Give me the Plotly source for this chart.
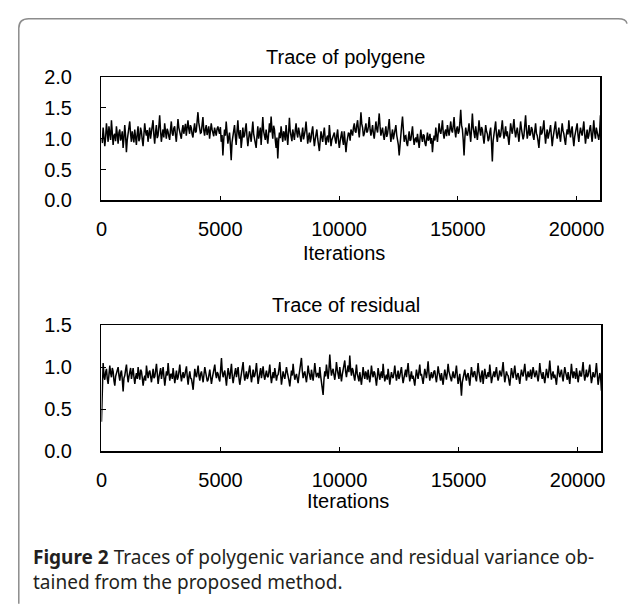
import plotly.graph_objects as go

# ---------------- data ----------------
step = 35
iterations = list(range(0, 21001, step))

polygene = [
    1.00, 0.93, 1.18, 1.05, 0.88, 1.02, 1.25, 1.10, 0.95, 1.20, 1.12, 0.98, 1.30, 1.15, 0.90, 1.05, 1.08, 0.96, 1.20, 1.07,
    0.92, 1.10, 1.15, 0.97, 1.02, 1.12, 0.85, 1.00, 1.22, 1.05, 0.78, 0.98, 1.10, 1.20, 1.28, 1.08, 0.95, 1.12, 1.05, 0.94,
    1.15, 1.03, 0.90, 1.08, 1.20, 0.96, 1.00, 1.18, 1.12, 0.99, 0.88, 1.06, 1.25, 1.12, 1.05, 1.14, 0.95, 1.08, 1.18, 1.00,
    1.08, 1.17, 1.30, 1.06, 0.92, 1.10, 1.22, 1.01, 1.05, 1.20, 1.38, 1.14, 0.95, 1.06, 1.15, 1.02, 1.25, 1.12, 1.00, 1.16,
    1.12, 1.04, 0.98, 1.15, 1.28, 1.09, 1.05, 1.17, 1.20, 1.06, 0.95, 1.13, 1.32, 1.18, 1.10, 1.01, 1.00, 1.14, 1.22, 1.08,
    1.15, 1.24, 1.05, 1.14, 1.30, 1.16, 1.08, 1.22, 1.18, 1.07, 1.02, 1.15, 1.25, 1.10, 1.12, 1.28, 1.43, 1.26, 1.20, 1.09,
    1.10, 1.19, 1.35, 1.14, 1.05, 1.16, 1.22, 1.06, 1.12, 1.20, 1.00, 1.11, 1.25, 1.15, 1.10, 1.04, 1.18, 1.12, 1.05, 1.16,
    1.20, 1.13, 1.08, 1.19, 0.95, 1.06, 0.73, 0.98, 1.15, 1.05, 1.28, 1.10, 0.92, 1.02, 1.10, 0.90, 0.65, 0.94, 1.05, 1.16,
    1.22, 1.04, 0.90, 1.12, 1.30, 1.08, 1.00, 1.14, 0.85, 0.99, 1.18, 1.02, 1.05, 1.16, 1.25, 1.03, 0.88, 1.00, 1.12, 1.06,
    0.95, 1.12, 1.28, 1.08, 1.02, 0.94, 0.85, 1.04, 1.20, 1.00, 1.10, 1.18, 0.90, 1.07, 1.35, 1.12, 1.05, 0.98, 1.15, 1.03,
    0.92, 1.08, 1.25, 1.10, 1.36, 1.14, 1.00, 1.21, 1.15, 0.98, 0.85, 1.02, 0.68, 0.96, 1.10, 1.01, 1.20, 1.07, 0.95, 1.12,
    1.08, 0.97, 1.22, 1.06, 0.90, 1.10, 1.34, 1.12, 1.05, 0.96, 1.15, 1.07, 0.98, 1.13, 1.25, 1.09, 1.02, 1.18, 1.12, 1.01,
    0.95, 1.07, 1.18, 0.99, 1.05, 1.14, 1.28, 1.04, 0.92, 1.03, 1.10, 0.94, 1.00, 1.12, 1.20, 1.02, 0.88, 0.99, 1.08, 1.15,
    1.00, 0.92, 0.80, 0.97, 1.12, 1.03, 0.95, 1.08, 1.18, 1.00, 0.90, 1.02, 1.05, 0.94, 1.22, 1.06, 0.88, 0.98, 1.02, 1.09,
    1.10, 0.99, 0.92, 1.06, 1.15, 0.97, 0.85, 0.96, 1.05, 1.12, 0.98, 0.90, 1.12, 1.00, 0.78, 0.93, 1.00, 1.10, 1.08, 0.97,
    1.15, 1.06, 1.05, 1.18, 1.25, 1.12, 1.10, 1.22, 1.30, 1.14, 1.02, 1.20, 1.43, 1.24, 1.18, 1.04, 1.08, 1.17, 1.25, 1.10,
    1.12, 1.20, 1.35, 1.15, 1.05, 1.13, 1.22, 1.08, 1.00, 1.14, 1.28, 1.16, 1.10, 1.25, 1.41, 1.20, 1.05, 1.12, 1.18, 1.06,
    0.98, 1.10, 1.20, 1.03, 1.08, 1.19, 1.32, 1.10, 0.95, 1.06, 1.15, 0.99, 1.05, 1.13, 1.22, 1.06, 1.00, 0.90, 0.73, 0.96,
    1.10, 1.22, 1.36, 1.08, 0.95, 1.04, 1.05, 0.93, 0.88, 1.01, 1.12, 0.97, 0.98, 1.09, 1.20, 1.02, 0.90, 0.99, 1.02, 0.94,
    1.08, 0.96, 0.85, 1.00, 1.15, 1.02, 0.95, 1.07, 1.05, 0.93, 0.88, 0.99, 1.10, 0.97, 1.00, 1.08, 0.92, 1.01, 0.78, 0.95,
    1.05, 0.97, 1.18, 1.06, 0.95, 1.10, 1.25, 1.12, 1.08, 1.17, 1.30, 1.09, 1.00, 1.11, 1.15, 1.04, 1.22, 1.13, 1.05, 1.16,
    1.28, 1.14, 1.10, 1.21, 1.35, 1.13, 1.02, 1.16, 1.20, 1.08, 1.12, 1.26, 1.47, 1.22, 1.15, 0.98, 0.73, 1.02, 1.18, 1.09,
    1.05, 1.14, 1.25, 1.08, 0.95, 1.16, 1.41, 1.18, 1.10, 1.01, 1.20, 1.09, 0.98, 1.12, 1.30, 1.14, 1.05, 1.19, 1.15, 1.03,
    0.92, 1.06, 1.22, 1.12, 1.08, 0.96, 1.00, 1.11, 1.18, 0.94, 0.63, 0.97, 1.10, 1.19, 1.28, 1.06, 0.95, 1.08, 1.15, 1.02,
    1.05, 1.17, 1.30, 1.12, 1.00, 1.09, 1.20, 1.04, 1.12, 1.01, 0.90, 1.07, 1.25, 1.15, 1.08, 1.20, 1.32, 1.13, 1.02, 1.11,
    1.18, 1.06, 0.95, 1.12, 1.28, 1.16, 1.10, 0.99, 1.05, 1.21, 1.38, 1.15, 1.00, 1.10, 1.22, 1.05, 1.08, 1.19, 1.15, 1.04,
    0.98, 1.12, 1.25, 1.09, 1.05, 0.96, 0.85, 1.03, 1.20, 1.07, 1.10, 1.18, 1.30, 1.08, 0.92, 1.06, 1.15, 1.00, 1.05, 1.14,
    1.22, 1.03, 0.88, 1.01, 1.12, 1.20, 1.28, 1.09, 1.00, 1.10, 1.18, 1.04, 0.95, 1.11, 1.25, 1.13, 1.08, 0.98, 0.90, 1.06,
    1.15, 1.07, 1.30, 1.12, 1.02, 1.14, 1.20, 1.01, 0.88, 1.03, 1.10, 1.18, 1.25, 1.06, 0.95, 1.09, 1.18, 1.10, 1.05, 1.16,
    1.28, 1.08, 0.92, 1.04, 1.15, 1.00, 1.05, 1.16, 1.22, 1.07, 0.95, 1.12, 1.30, 1.10, 1.00, 1.18, 1.12, 1.03, 0.98, 1.10,
    1.38,
]

residual = [
    0.35, 0.92, 1.05, 0.90, 0.85, 0.94, 0.98, 0.86, 0.80, 0.91, 1.02, 0.93, 0.88, 0.99, 0.95, 0.84, 0.78, 0.89, 0.92, 0.97,
    1.00, 0.90, 0.84, 0.93, 0.96, 0.85, 0.71, 0.87, 0.90, 0.97, 1.03, 0.91, 0.82, 0.89, 0.94, 0.99, 0.86, 0.92, 0.99, 0.88,
    0.80, 0.88, 0.93, 0.86, 1.00, 0.91, 0.85, 0.97, 0.95, 0.87, 0.78, 0.86, 0.90, 0.84, 1.02, 0.93, 0.87, 0.94, 0.96, 0.89,
    0.82, 0.90, 0.98, 0.87, 0.89, 0.96, 1.04, 0.92, 0.80, 0.88, 0.93, 0.99, 0.86, 0.92, 1.00, 0.88, 0.78, 0.87, 0.95, 0.90,
    1.05, 0.93, 0.84, 0.91, 0.92, 0.86, 0.99, 0.90, 0.81, 0.89, 0.96, 0.85, 0.88, 0.95, 1.03, 0.91, 0.83, 0.90, 0.94, 0.87,
    0.90, 0.96, 1.01, 0.88, 0.79, 0.89, 0.95, 0.87, 0.86, 0.80, 0.73, 0.86, 0.98, 0.91, 0.88, 0.95, 1.02, 0.90, 0.84, 0.92,
    0.95, 0.88, 0.82, 0.91, 1.00, 0.94, 0.90, 0.83, 0.85, 0.92, 0.97, 0.88, 0.80, 0.87, 0.93, 0.98, 1.03, 0.92, 0.87, 0.94,
    0.92, 0.86, 0.83, 0.97, 1.11, 0.94, 0.88, 0.93, 0.96, 0.87, 0.78, 0.90, 0.99, 0.92, 0.86, 0.95, 1.04, 0.89, 0.81, 0.88,
    0.94, 0.99, 0.88, 0.93, 1.00, 0.87, 0.79, 0.86, 0.92, 0.98, 1.06, 0.91, 0.84, 0.90, 0.95, 0.86, 0.89, 0.96, 1.02, 0.91,
    0.82, 0.89, 0.97, 0.88, 0.90, 0.96, 1.05, 0.92, 0.80, 0.87, 0.93, 0.99, 0.87, 0.93, 1.01, 0.90, 0.85, 0.91, 0.96, 0.89,
    0.88, 0.95, 1.03, 0.90, 0.81, 0.88, 0.94, 0.87, 0.99, 0.92, 0.84, 0.90, 0.91, 0.98, 1.06, 0.92, 0.79, 0.87, 0.95, 0.90,
    0.86, 0.93, 1.00, 0.94, 0.90, 0.84, 0.77, 0.88, 0.96, 0.90, 1.04, 0.93, 0.85, 0.89, 0.92, 0.86, 0.81, 0.90, 0.98, 1.03,
    1.11, 0.96, 0.87, 0.92, 0.95, 0.88, 0.82, 0.91, 1.02, 0.94, 0.90, 0.85, 0.97, 0.91, 0.84, 0.93, 1.05, 0.95, 0.88, 0.92,
    0.93, 0.87, 1.00, 0.90, 0.80, 0.74, 0.67, 0.85, 0.95, 0.89, 1.03, 0.94, 0.86, 0.97, 1.15, 1.00, 0.90, 0.95, 0.98, 0.91,
    0.85, 0.93, 1.06, 0.97, 0.92, 0.86, 1.00, 0.94, 0.83, 0.91, 0.97, 1.03, 1.08, 0.95, 0.88, 0.96, 1.02, 0.94, 1.14, 0.98,
    0.90, 0.99, 0.96, 0.89, 0.84, 0.93, 1.03, 0.92, 0.88, 0.83, 0.94, 0.87, 0.79, 0.89, 1.00, 0.91, 0.86, 0.95, 0.92, 0.85,
    0.97, 0.89, 0.82, 0.90, 1.02, 0.93, 0.88, 0.95, 0.93, 0.86, 0.78, 0.88, 0.99, 0.92, 0.85, 0.91, 0.95, 0.87, 1.04, 0.92,
    0.83, 0.88, 0.91, 0.85, 0.98, 0.90, 0.79, 0.87, 0.94, 0.89, 0.87, 0.93, 1.02, 0.92, 0.84, 0.90, 0.96, 0.86, 0.89, 0.95,
    1.00, 0.89, 0.81, 0.87, 0.93, 0.97, 0.88, 0.94, 1.05, 0.92, 0.83, 0.89, 0.95, 0.86, 0.90, 0.84, 0.78, 0.88, 0.97, 0.91,
    0.86, 0.95, 1.03, 0.90, 0.92, 0.86, 0.80, 0.89, 0.98, 0.93, 0.87, 0.96, 1.07, 0.93, 0.84, 0.90, 0.94, 0.87, 0.89, 0.95,
    0.96, 0.88, 0.82, 0.91, 1.01, 0.94, 0.88, 0.84, 0.93, 0.87, 0.79, 0.89, 0.97, 0.91, 0.85, 0.93, 1.04, 0.95, 0.90, 0.86,
    0.83, 0.90, 0.95, 0.88, 0.87, 0.94, 1.02, 0.90, 0.80, 0.86, 0.92, 0.81, 0.66, 0.82, 0.89, 0.94, 0.97, 0.89, 0.84, 0.91,
    0.93, 0.86, 0.78, 0.89, 1.00, 0.92, 0.88, 0.94, 0.95, 0.87, 0.83, 0.93, 1.05, 0.94, 0.87, 0.82, 0.92, 0.96, 0.80, 0.88,
    0.98, 0.91, 0.86, 0.90, 0.94, 0.88, 1.03, 0.93, 0.81, 0.87, 0.91, 0.95, 0.88, 0.93, 1.00, 0.90, 0.84, 0.89, 0.96, 0.92,
    0.89, 0.97, 1.06, 0.93, 0.82, 0.88, 0.95, 0.91, 0.90, 0.84, 0.78, 0.88, 0.99, 0.93, 0.87, 0.94, 1.02, 0.92, 0.85, 0.90,
    0.93, 0.87, 0.80, 0.89, 0.97, 0.92, 0.89, 0.96, 1.04, 0.93, 0.84, 0.90, 0.95, 0.88, 0.91, 0.97, 0.86, 0.92, 1.00, 0.94,
    0.88, 0.92, 0.96, 0.89, 0.83, 0.91, 1.05, 0.95, 0.90, 0.86, 0.94, 0.88, 0.81, 0.89, 0.98, 0.92, 0.87, 0.96, 1.08, 0.95,
    0.85, 0.91, 0.95, 0.87, 0.91, 0.86, 0.79, 0.90, 1.02, 0.94, 0.88, 0.93, 0.97, 0.89, 0.83, 0.92, 1.00, 0.94, 0.90, 0.85,
    0.94, 0.88, 0.80, 0.91, 1.04, 0.93, 0.87, 0.95, 0.92, 0.86, 0.99, 0.91, 0.82, 0.89, 0.96, 0.90, 0.89, 0.97, 1.06, 0.92,
    0.84, 0.90, 0.97, 0.88, 0.90, 0.96, 1.03, 0.91, 0.81, 0.87, 0.94, 0.89, 0.88, 0.95, 1.05, 0.92, 0.79, 0.86, 0.93, 0.89,
    0.72,
]

x_ticks = [0, 5000, 10000, 15000, 20000]
x_tick_labels = ["0", "5000", "10000", "15000", "20000"]
top_y_ticks = [0.0, 0.5, 1.0, 1.5, 2.0]
bottom_y_ticks = [0.0, 0.5, 1.0, 1.5]
top_title = "Trace of polygene"
bottom_title = "Trace of residual"
x_title = "Iterations"
caption_bold = "Figure 2"
caption_line1 = " Traces of polygenic variance and residual variance ob-"
caption_line2 = "tained from the proposed method."

# ---------------- geometry ----------------
W, H = 632, 610
def px(x):
    return x / W
def py(y):
    return 1 - y / H

TICK_FONT = dict(family="Liberation Sans, Arial, sans-serif", size=20, color="black")
CAP_FONT = dict(family="Noto Sans, Open Sans, sans-serif", size=19, color="#231f20")

fig = go.Figure()
fig.add_trace(go.Scatter(x=iterations, y=polygene, mode="lines",
                         line=dict(color="black", width=1.5),
                         xaxis="x", yaxis="y", showlegend=False, hoverinfo="skip"))
fig.add_trace(go.Scatter(x=iterations, y=residual, mode="lines",
                         line=dict(color="black", width=1.5),
                         xaxis="x2", yaxis="y2", showlegend=False, hoverinfo="skip"))

common_x = dict(range=[0, 21000], tickvals=x_ticks, ticktext=x_tick_labels,
                ticks="inside", ticklen=4, tickwidth=1, tickcolor="black",
                showline=True, linecolor="black", linewidth=1.5, mirror=True,
                showgrid=False, zeroline=False, tickfont=TICK_FONT,
                ticklabelstandoff=10, fixedrange=True)
common_y = dict(ticks="inside", ticklen=5, tickwidth=1, tickcolor="black",
                showline=True, linecolor="black", linewidth=1.5, mirror=True,
                showgrid=False, zeroline=False, tickfont=TICK_FONT,
                tickformat=".1f", ticklabelstandoff=24, fixedrange=True)

fig.update_layout(
    width=W, height=H,
    margin=dict(l=0, r=0, t=0, b=0),
    paper_bgcolor="white", plot_bgcolor="white",
    xaxis=dict(domain=[px(97), px(604)], anchor="y", **common_x),
    yaxis=dict(domain=[py(196.5), py(68.5)], anchor="x", range=[0, 2],
               tickvals=top_y_ticks, **common_y),
    xaxis2=dict(domain=[px(97), px(605)], anchor="y2", **common_x),
    yaxis2=dict(domain=[py(456.5), py(326)], anchor="x2", range=[0, 1.5],
                tickvals=bottom_y_ticks, **common_y),
)

annotations = [
    dict(text=top_title, x=px(345), y=py(48), font=TICK_FONT),
    dict(text=x_title, x=px(343), y=py(251), font=TICK_FONT),
    dict(text=bottom_title, x=px(345), y=py(305), font=TICK_FONT),
    dict(text=x_title, x=px(348), y=py(508), font=TICK_FONT),
]
for a in annotations:
    a.update(xref="paper", yref="paper", showarrow=False, xanchor="center", yanchor="middle")
fig.update_layout(annotations=annotations)

fig.add_annotation(text="<b>" + caption_bold + "</b>" + caption_line1 + "<br>" + caption_line2,
                   x=px(25), y=py(579.5), xref="paper", yref="paper", showarrow=False,
                   xanchor="left", yanchor="middle", align="left", font=CAP_FONT)

# outer rounded frame of the figure panel
frame = (f"M {px(13)},{py(615)} L {px(13)},{py(18)} Q {px(13)},{py(8)} {px(23)},{py(8)} "
         f"L {px(622)},{py(8)} Q {px(630)},{py(8)} {px(631)},{py(13)}")
fig.add_shape(type="path", path=frame, xref="paper", yref="paper",
              line=dict(color="#8c8c8c", width=1.5))

# remove the browser's default 8px page margin so the 632x610 figure fills the window exactly
fig.write_html("out.html", config={"displayModeBar": False, "staticPlot": True},
               post_script="document.body.style.margin='0';document.body.style.overflow='hidden';")
